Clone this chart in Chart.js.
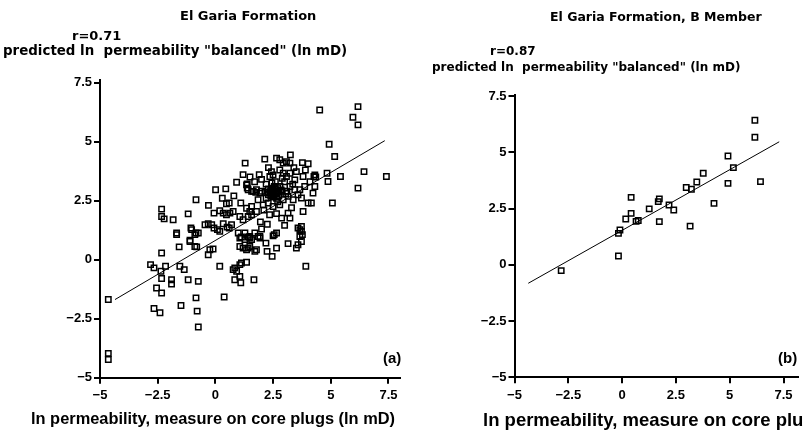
<!DOCTYPE html>
<html>
<head>
<meta charset="utf-8">
<script src="https://cdn.jsdelivr.net/npm/chart.js"></script>
<style>
  body { margin: 0; background: #fff; }
  #page { position: relative; width: 803px; height: 439px; overflow: hidden; background: #fff; }
  canvas { position: absolute; top: 0; }
  .txt { position: absolute; white-space: pre; line-height: 1; font-family: "Liberation Sans", Arial, sans-serif; font-weight: bold; color: #000; }
  .hd { font-family: "DejaVu Sans", sans-serif; }
</style>
</head>
<body>
<div id="page">
  <canvas id="chartA" width="420" height="439" style="left:0"></canvas>
  <canvas id="chartB" width="383" height="439" style="left:420px"></canvas>

  <div class="txt hd" style="left:180px;top:9px;font-size:13px">El Garia Formation</div>
  <div class="txt hd" style="left:72px;top:29px;font-size:13px">r=0.71</div>
  <div class="txt hd" style="left:3px;top:44px;font-size:13.4px">predicted ln  permeability "balanced" (ln mD)</div>
  <div class="txt" style="left:31px;top:410px;font-size:16.4px">ln permeability, measure on core plugs (ln mD)</div>
  <div class="txt" style="left:383px;top:350px;font-size:15px">(a)</div>

  <div class="txt hd" style="left:550px;top:11px;font-size:12.5px">El Garia Formation, B Member</div>
  <div class="txt hd" style="left:490px;top:45px;font-size:12px">r=0.87</div>
  <div class="txt hd" style="left:432px;top:61px;font-size:12px">predicted ln  permeability "balanced" (ln mD)</div>
  <div class="txt" style="left:483px;top:411px;font-size:18.5px">ln permeability, measure on core plugs (ln mD)</div>
  <div class="txt" style="left:778px;top:350px;font-size:15px">(b)</div>
</div>

<script>
// (a) El Garia Formation — ln k core plugs vs predicted ln k
const aX = [
  -4.64, -4.64, -4.64,
  -2.81, -2.66, -2.33, -2.16, -2.36, -2.33, -2.55, -2.33, -2.66, -2.40,
  -1.54, -1.35, -1.90, -1.90, -1.49, -1.18, -0.74, -0.84, -0.79, -0.74,
  -1.68, -1.68, -1.57, -1.10, -0.89, -1.03, -0.89,
  -2.33, -2.33, -2.22, -1.83, -1.18, -0.84, -1.06, -0.84,
  1.29, 0.92, 1.38, 1.38, 1.75, 1.57, 0.01, 0.45, 0.48, 0.60, -0.06, 0.19, 0.34, 0.48, 0.63, 0.77,
  1.06, 1.20, 1.42, 1.57, 1.78,
  -0.45, -0.31, -0.16, -0.06, 0.09, 0.19, 0.34, 0.51, 0.60, 0.70,
  0.99, 1.13, 1.28, 1.42, 1.57, 1.71, 1.85,
  -0.74, -1.10, -0.81, -0.24, -0.10, -0.31, 0.19, 0.84, 0.92, 1.13, 1.35, 1.06, 1.20, 1.35, 1.49, 1.06, 1.28,
  4.52, 6.18, 5.96, 6.18, 4.93, 5.17, 3.25, 2.65, 2.79, 3.08, 3.23, 2.94, 2.14,
  3.77, 4.02, 4.31, 4.27, 4.35, 4.84, 5.42, 6.44, 7.41, 4.88, 6.18, 5.07, 4.16, 4.02, 4.23, 4.31,
  3.80, 3.87, 3.66, 3.44, 3.51, 3.23, 3.08, 2.94, 2.79, 2.50, 2.43, 2.36,
  2.36, 2.45, 2.55, 2.60, 2.50, 2.70, 2.40, 2.65, 2.30, 2.55, 2.75,
  1.93, 1.78, 1.64, 1.42, 1.35,
  2.94, 3.15, 3.37, 3.58, 3.73, 3.23, 3.44,
  2.07, 2.29, 2.50, 2.79, 1.85, 1.57, 1.35, 1.49,
  3.15, 2.87, 3.23, 3.80, 3.58, 3.73, 3.77,
  2.65, 2.50, 1.93, 1.49,
  0.38, 0.77, 0.84, 1.06, 1.10, 1.67, 3.92, 3.66, 3.58, 3.73, 3.51, 3.15, 2.65, 2.46, 2.24, 2.55,
  2.19, 1.93, 1.78, 1.71, 1.49, 1.42, 3.66, 3.73, 1.06,
  2.20, 2.00, 1.90, 2.30, 2.60, 2.80, 3.00, 3.10, 2.90, 2.20, 2.00, 1.70, 1.50, 1.20, 2.45,
  2.70, 3.40, 3.90, 4.10, 2.10, 2.35, 2.65, 1.10, 0.80, 1.95, 2.25, 3.00, 3.30, 2.00, 0.30, -0.30,
  2.40, 2.55, 2.70, 2.85, 2.30, 2.60, 2.75, 2.50, 2.15, 3.05, 3.35, 2.90, 2.48, 2.62, 2.38
]
const aY = [
  -1.69, -3.97, -4.23,
  -0.21, -0.35, 0.28, -0.28, -0.49, -0.80, -1.20, -1.41, -2.07, -2.25,
  -0.28, -0.42, -0.85, -1.03, -1.94, -0.85, -0.92, -1.62, -2.18, -2.85,
  1.13, 1.06, 0.54, 0.77, 0.56, 1.27, 1.06,
  2.14, 1.83, 1.73, 1.69, 1.94, 2.54, 1.34, 1.13,
  4.09, 3.28, 3.21, 3.03, 2.85, 2.89, 2.96, 3.00, 2.37, 2.40, 1.97, 2.07, 1.97, 1.90, 1.97, 2.04,
  1.83, 1.69, 1.83, 1.90, 2.04,
  1.48, 1.52, 1.48, 1.34, 1.27, 1.20, 1.52, 1.38, 1.34, 1.48,
  1.13, 0.96, 1.13, 0.96, 0.85, 1.13, 0.98,
  1.13, 0.82, 0.54, 0.42, 0.45, 0.21, -0.28, -0.35, -0.49, -0.14, -0.11, 0.56, 0.49, 0.42, 0.56, 0.92, 0.85,
  6.34, 6.48, 6.03, 5.71, 4.89, 4.37, 4.44, 4.30, 4.23, 4.15, 4.09, 4.09, 4.26,
  4.11, 4.06, 3.59, 3.52, 3.50, 3.66, 3.52, 3.73, 3.52, 3.31, 3.03, 2.40, 2.40, 2.40, 2.82, 3.10,
  3.52, 3.10, 2.96, 3.38, 3.73, 3.66, 3.52, 3.66, 3.80, 3.59, 3.73, 3.52,
  2.82, 2.90, 2.75, 3.00, 2.65, 2.85, 2.70, 2.60, 3.00, 3.10, 2.70,
  2.82, 2.96, 2.89, 2.96, 3.17,
  2.54, 2.68, 2.54, 2.75, 2.61, 3.10, 2.96,
  2.32, 2.40, 2.25, 2.32, 2.54, 2.25, 2.18, 2.04,
  1.97, 1.76, 1.76, 2.04, 1.34, 1.20, 1.06,
  1.13, 1.01, 0.98, 0.98,
  -1.58, -0.42, -0.85, -0.71, -0.98, -0.85, -0.28, 0.98, 0.63, 0.77, 0.49, 0.68, 0.49, 0.14, 0.35, 1.06,
  0.70, 0.92, 0.42, 0.35, 0.92, 0.49, 1.27, 1.41, -0.21,
  3.20, 3.40, 3.60, 3.90, 3.30, 3.10, 3.30, 2.90, 2.90, 2.60, 2.90, 3.30, 3.50, 3.60, 3.25,
  2.45, 3.90, 3.80, 3.30, 2.10, 1.90, 1.95, 2.40, 2.70, 1.60, 1.50, 1.45, 2.20, 1.30, 2.60, 2.30,
  2.95, 2.80, 3.05, 2.95, 2.75, 2.85, 2.90, 2.95, 2.85, 2.80, 3.20, 3.45, 2.72, 2.78, 2.88
]
const aLineX = [-4.35, 7.34]
const aLineY = [-1.69, 5.04]

// (b) El Garia Formation, B Member
const bX = [6.17, 6.17, 4.92, 5.17, 4.92, 6.43, 3.77, 3.47, 2.98, 3.22, 4.27, 3.16, 2.18, 2.40,
  1.73, 1.68, 1.73, 1.26, 0.42, 0.42, 0.17, 0.65, 0.75, -0.10, -0.17, -0.17, -2.83]
const bY = [6.43, 5.67, 4.84, 4.32, 3.62, 3.70, 4.07, 3.68, 3.44, 3.36, 2.73, 1.72, 2.66, 2.44,
  2.93, 2.81, 1.92, 2.49, 3.00, 2.29, 2.04, 1.93, 1.97, 1.55, 1.40, 0.39, -0.26]
const bLineX = [-4.36, 7.30]
const bLineY = [-0.82, 5.47]

const tickValues = [-5, -2.5, 0, 2.5, 5, 7.5]

const toPoints = (xs, ys) => xs.map((x, i) => ({ x: x, y: ys[i] }))
const fmt = v => (v < 0 ? '\u2212' : '') + Math.abs(v)
// only the 2.5 steps get a tick, never the axis ends
const keepSteps = s => { s.ticks = tickValues.map(v => ({ value: v })) }

function axis(opts) {
  return {
    type: 'linear',
    min: opts.min,
    max: opts.max,
    afterBuildTicks: keepSteps,
    afterFit: opts.fit,
    border: { display: true, color: '#000', width: 2 },
    grid: { display: true, drawOnChartArea: false, drawTicks: true, tickLength: 6, color: '#000', lineWidth: 2 },
    ticks: {
      color: '#000',
      padding: opts.pad,
      maxRotation: 0,
      autoSkip: false,
      font: { family: 'Liberation Sans, Arial', size: 13, weight: 'bold' },
      callback: fmt
    }
  }
}

function makeChart(el, xs, ys, lx, ly, cfg) {
  return new Chart(el, {
    type: 'scatter',
    data: {
      datasets: [{
        data: toPoints(xs, ys),
        pointStyle: 'rect',
        pointRadius: 3.8,
        borderColor: '#000',
        borderWidth: 1.5,
        backgroundColor: 'rgba(255,255,255,0)'
      }, {
        data: toPoints(lx, ly),
        showLine: true,
        borderColor: '#000',
        borderWidth: 1,
        pointRadius: 0
      }]
    },
    options: {
      responsive: false,
      animation: false,
      devicePixelRatio: 1,
      layout: { padding: cfg.padding },
      plugins: { legend: { display: false }, tooltip: { enabled: false } },
      scales: {
        x: axis({ min: -5, max: cfg.xMax, pad: 4, fit: s => { s.height = cfg.xHeight } }),
        y: axis({ min: -5, max: cfg.yMax, pad: 2, fit: s => { s.width = cfg.yWidth } })
      }
    }
  })
}

makeChart(document.getElementById('chartA'), aX, aY, aLineX, aLineY, {
  padding: { top: 80, right: 20, left: 0, bottom: 0 },
  xMax: 8, yMax: 7.61, xHeight: 61.3, yWidth: 100
})

makeChart(document.getElementById('chartB'), bX, bY, bLineX, bLineY, {
  padding: { top: 95, right: 0, left: 0, bottom: 0 },
  xMax: 8.15, yMax: 7.55, xHeight: 61.7, yWidth: 94.5
})
</script>
</body>
</html>
